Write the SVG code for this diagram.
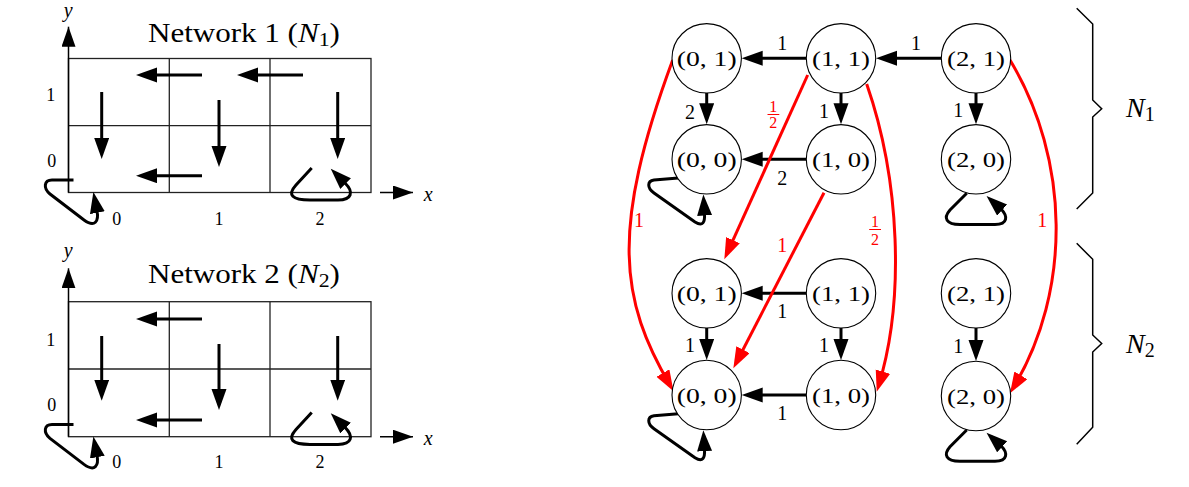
<svg xmlns="http://www.w3.org/2000/svg" width="1189" height="487" viewBox="0 0 1189 487">
<style>
text{font-family:"Liberation Serif","Times New Roman",serif;fill:#000}
.grid{fill:none;stroke:#222;stroke-width:1.3}
.ax{fill:none;stroke:#000;stroke-width:1.5}
.ar{fill:none;stroke:#000;stroke-width:3}
.rd{fill:none;stroke:#f00;stroke-width:3}
.node{fill:#fff;stroke:#000;stroke-width:1.1}
.nl{font-size:21px;text-anchor:middle}
.el{font-size:20px;text-anchor:middle}
.rl{font-size:20px;text-anchor:middle;fill:#f00}
.fr{font-size:16px;text-anchor:middle;fill:#f00}
.tk{font-size:18px;text-anchor:middle}
.it{font-style:italic}
.brace{fill:none;stroke:#000;stroke-width:1.5}
</style>
<defs>
<marker id="ah" markerUnits="userSpaceOnUse" markerWidth="22" markerHeight="16" refX="15" refY="7.5" orient="auto"><path d="M0,0 L21,7.5 L0,15 z" fill="#000"/></marker>
<marker id="ahr" markerUnits="userSpaceOnUse" markerWidth="22" markerHeight="16" refX="15" refY="7.5" orient="auto"><path d="M0,0 L21,7.5 L0,15 z" fill="#f00"/></marker>
<marker id="axh" markerUnits="userSpaceOnUse" markerWidth="22" markerHeight="16" refX="20" refY="7" orient="auto"><path d="M0,0 L20,7 L0,14 z" fill="#000"/></marker>
<g id="loopA"><path class="ar" marker-end="url(#ah)" d="M73.5,180 L52,180 C44,180 43,188 50,194 L84,220 C95,228 99,221 97,211 L94.5,198"/></g>
<g id="loopB"><path class="ar" marker-end="url(#ah)" d="M311.7,168 L296,185 C287,195 292,200 310,200 L338,200 C352,200 354,192 345,183 L335,173"/></g>
<g id="gloopA"><path class="ar" marker-end="url(#ah)" d="M678.3,178 L654,180 C647,181 647,188 654,193 L695,222 C703,227 705,222 704.5,214 L703.7,200.5"/></g>
<g id="gloopB"><path class="ar" marker-end="url(#ah)" d="M966.7,193.3 L950,210 C943,218 946,224.5 960,224.5 L995,224.5 C1008,224.5 1008,216 1001,209 L991,200"/></g>
</defs>

<!-- Network 1 grid -->
<g id="grid1">
<rect class="grid" x="68.5" y="58.5" width="302.5" height="134"/>
<line class="grid" x1="169.3" y1="58.5" x2="169.3" y2="192.5"/>
<line class="grid" x1="270" y1="58.5" x2="270" y2="192.5"/>
<line class="grid" x1="68.5" y1="125.7" x2="371" y2="125.7"/>
<line class="ax" x1="68.5" y1="192.5" x2="68.5" y2="26.7" marker-end="url(#axh)"/>
<line class="ax" x1="380" y1="192.5" x2="413" y2="192.5" marker-end="url(#axh)"/>
<text class="it" x="68.3" y="17" font-size="20" text-anchor="middle">y</text>
<text class="it" x="428.3" y="201" font-size="20" text-anchor="middle">x</text>
<text font-size="27" transform="translate(148,41.7) scale(1.15,1)">Network 1 (<tspan class="it">N</tspan><tspan font-size="19" dy="4">1</tspan><tspan dy="-4">)</tspan></text>
<text class="tk" x="50.7" y="101">1</text>
<text class="tk" x="51.7" y="166.5">0</text>
<text class="tk" x="116.7" y="224.5">0</text>
<text class="tk" x="219" y="224.5">1</text>
<text class="tk" x="320" y="224.5">2</text>
<line class="ar" x1="202" y1="75" x2="142" y2="75" marker-end="url(#ah)"/>
<line class="ar" x1="303" y1="75" x2="243" y2="75" marker-end="url(#ah)"/>
<line class="ar" x1="101.7" y1="92" x2="101.7" y2="153" marker-end="url(#ah)"/>
<line class="ar" x1="219" y1="100" x2="219" y2="161" marker-end="url(#ah)"/>
<line class="ar" x1="337.7" y1="92" x2="337.7" y2="153" marker-end="url(#ah)"/>
<line class="ar" x1="202" y1="175.7" x2="142" y2="175.7" marker-end="url(#ah)"/>
<use href="#loopA"/>
<use href="#loopB"/>
</g>

<!-- Network 2 grid -->
<g id="grid2">
<rect class="grid" x="68.5" y="301.7" width="302.5" height="135"/>
<line class="grid" x1="169.3" y1="301.7" x2="169.3" y2="436.7"/>
<line class="grid" x1="270" y1="301.7" x2="270" y2="436.7"/>
<line class="grid" x1="68.5" y1="369" x2="371" y2="369"/>
<line class="ax" x1="68.5" y1="436.7" x2="68.5" y2="268.3" marker-end="url(#axh)"/>
<line class="ax" x1="380" y1="436.7" x2="413" y2="436.7" marker-end="url(#axh)"/>
<text class="it" x="68.3" y="257" font-size="20" text-anchor="middle">y</text>
<text class="it" x="428.3" y="445" font-size="20" text-anchor="middle">x</text>
<text font-size="27" transform="translate(148,283.3) scale(1.15,1)">Network 2 (<tspan class="it">N</tspan><tspan font-size="19" dy="4">2</tspan><tspan dy="-4">)</tspan></text>
<text class="tk" x="50.7" y="346">1</text>
<text class="tk" x="51.7" y="411">0</text>
<text class="tk" x="116.7" y="468">0</text>
<text class="tk" x="219" y="468">1</text>
<text class="tk" x="320" y="468">2</text>
<line class="ar" x1="202" y1="319" x2="142" y2="319" marker-end="url(#ah)"/>
<line class="ar" x1="101.7" y1="336" x2="101.7" y2="394.7" marker-end="url(#ah)"/>
<line class="ar" x1="219" y1="344" x2="219" y2="404" marker-end="url(#ah)"/>
<line class="ar" x1="337.7" y1="336" x2="337.7" y2="394.7" marker-end="url(#ah)"/>
<line class="ar" x1="202" y1="420" x2="142" y2="420" marker-end="url(#ah)"/>
<use href="#loopA" transform="translate(0,244.4)"/>
<use href="#loopB" transform="translate(0,244.4)"/>
</g>

<!-- connectors -->
<g id="connectors">
<line class="ar" x1="806" y1="58.3" x2="747.7" y2="58.3" marker-end="url(#ah)"/>
<line class="ar" x1="941" y1="58.3" x2="882" y2="58.3" marker-end="url(#ah)"/>
<line class="ar" x1="706.7" y1="93" x2="706.7" y2="118.3" marker-end="url(#ah)"/>
<line class="ar" x1="841" y1="93" x2="841" y2="118.3" marker-end="url(#ah)"/>
<line class="ar" x1="806" y1="159.3" x2="747.7" y2="159.3" marker-end="url(#ah)"/>
<line class="ar" x1="976" y1="93" x2="976" y2="118.3" marker-end="url(#ah)"/>
<use href="#gloopA"/>
<use href="#gloopB"/>
<line class="ar" x1="806" y1="293.3" x2="747.7" y2="293.3" marker-end="url(#ah)"/>
<line class="ar" x1="706.7" y1="328" x2="706.7" y2="354" marker-end="url(#ah)"/>
<line class="ar" x1="841" y1="328" x2="841" y2="354" marker-end="url(#ah)"/>
<line class="ar" x1="806" y1="395" x2="747.7" y2="395" marker-end="url(#ah)"/>
<line class="ar" x1="976" y1="328" x2="976" y2="355" marker-end="url(#ah)"/>
<use href="#gloopA" transform="translate(0,235.7)"/>
<use href="#gloopB" transform="translate(0,236.7)"/>
<path class="rd" marker-end="url(#ahr)" d="M672.7,60 C610,230 620,300 670.5,386"/>
<line class="rd" x1="807.7" y1="75" x2="726.8" y2="253.8" marker-end="url(#ahr)"/>
<line class="rd" x1="824" y1="192.7" x2="736.1" y2="363" marker-end="url(#ahr)"/>
<path class="rd" marker-end="url(#ahr)" d="M866.7,84 C900,180 905,300 878.5,386"/>
<path class="rd" marker-end="url(#ahr)" d="M1010,60 C1070,160 1072,290 1013.1,388.2"/>
<text class="el" x="782.3" y="49.5">1</text>
<text class="el" x="916" y="49.5">1</text>
<text class="el" x="690" y="118.5">2</text>
<text class="el" x="824" y="117.5">1</text>
<text class="el" x="782.3" y="185">2</text>
<text class="el" x="958.3" y="117">1</text>
<text class="el" x="782.3" y="318">1</text>
<text class="el" x="690" y="352">1</text>
<text class="el" x="824" y="352">1</text>
<text class="el" x="782.3" y="419.5">1</text>
<text class="el" x="958.3" y="353">1</text>
<text class="rl" x="639" y="227">1</text>
<text class="rl" x="782.3" y="252">1</text>
<text class="rl" x="1042.3" y="227">1</text>
<text class="fr" x="773.3" y="111.5">1</text>
<line x1="767.5" y1="114.5" x2="779.3" y2="114.5" stroke="#f00" stroke-width="1"/>
<text class="fr" x="773.3" y="127.5">2</text>
<text class="fr" x="875" y="226.5">1</text>
<line x1="869.2" y1="229.5" x2="881" y2="229.5" stroke="#f00" stroke-width="1"/>
<text class="fr" x="875" y="245">2</text>
</g>

<!-- nodes -->
<g id="n1_01"><circle class="node" cx="706.7" cy="58.3" r="34.7"/><text class="nl" x="706.7" y="66.3" textLength="60" lengthAdjust="spacingAndGlyphs">(0, 1)</text></g>
<g id="n1_11"><circle class="node" cx="841" cy="58.3" r="34.7"/><text class="nl" x="841" y="66.3" textLength="58" lengthAdjust="spacingAndGlyphs">(1, 1)</text></g>
<g id="n1_21"><circle class="node" cx="976" cy="58.3" r="34.7"/><text class="nl" x="976" y="66.3" textLength="58" lengthAdjust="spacingAndGlyphs">(2, 1)</text></g>
<g id="n1_00"><circle class="node" cx="706.7" cy="159.3" r="34.7"/><text class="nl" x="706.7" y="167.3" textLength="60" lengthAdjust="spacingAndGlyphs">(0, 0)</text></g>
<g id="n1_10"><circle class="node" cx="841" cy="159.3" r="34.7"/><text class="nl" x="841" y="167.3" textLength="58" lengthAdjust="spacingAndGlyphs">(1, 0)</text></g>
<g id="n1_20"><circle class="node" cx="976" cy="159.3" r="34.7"/><text class="nl" x="976" y="167.3" textLength="58" lengthAdjust="spacingAndGlyphs">(2, 0)</text></g>
<g id="n2_01"><circle class="node" cx="706.7" cy="293.3" r="34.7"/><text class="nl" x="706.7" y="301.3" textLength="60" lengthAdjust="spacingAndGlyphs">(0, 1)</text></g>
<g id="n2_11"><circle class="node" cx="841" cy="293.3" r="34.7"/><text class="nl" x="841" y="301.3" textLength="58" lengthAdjust="spacingAndGlyphs">(1, 1)</text></g>
<g id="n2_21"><circle class="node" cx="976" cy="293.3" r="34.7"/><text class="nl" x="976" y="301.3" textLength="58" lengthAdjust="spacingAndGlyphs">(2, 1)</text></g>
<g id="n2_00"><circle class="node" cx="706.7" cy="395" r="34.7"/><text class="nl" x="706.7" y="403" textLength="60" lengthAdjust="spacingAndGlyphs">(0, 0)</text></g>
<g id="n2_10"><circle class="node" cx="841" cy="395" r="34.7"/><text class="nl" x="841" y="403" textLength="58" lengthAdjust="spacingAndGlyphs">(1, 0)</text></g>
<g id="n2_20"><circle class="node" cx="976" cy="396" r="34.7"/><text class="nl" x="976" y="404" textLength="58" lengthAdjust="spacingAndGlyphs">(2, 0)</text></g>

<!-- braces -->
<g id="braceN1">
<path class="brace" d="M1076.7,8.3 L1092.7,24 L1092.7,100 L1101.7,108.7 L1092.7,117 L1092.7,193 L1076.7,209"/>
<text x="1126" y="116.7" font-size="28"><tspan class="it">N</tspan><tspan font-size="20" dy="4">1</tspan></text>
</g>
<g id="braceN2">
<path class="brace" d="M1076.7,243.3 L1092.7,259.3 L1092.7,335 L1101.7,343.5 L1092.7,352 L1092.7,427.3 L1076.7,444.3"/>
<text x="1126" y="353.3" font-size="28"><tspan class="it">N</tspan><tspan font-size="20" dy="4">2</tspan></text>
</g>
</svg>
